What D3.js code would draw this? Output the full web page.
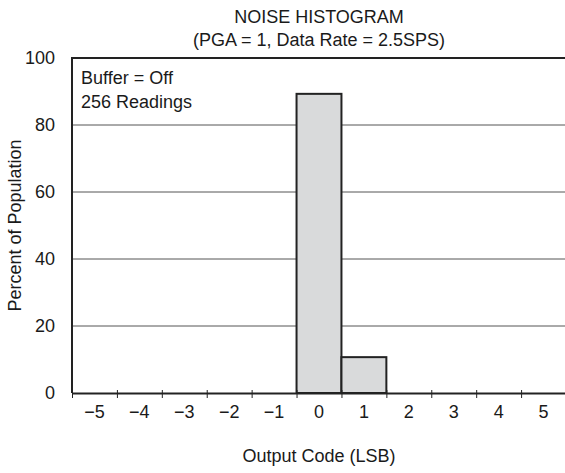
<!DOCTYPE html>
<html>
<head>
<meta charset="utf-8">
<script src="https://cdn.jsdelivr.net/npm/d3@7"></script>
<style>
  body { margin: 0; background: #fff; }
  text { font-family: "Liberation Sans", Arial, sans-serif; fill: #1a1a1a; }
</style>
</head>
<body>
<script>
// Chart data
const codes = [-5, -4, -3, -2, -1, 0, 1, 2, 3, 4, 5];
const percents = [0, 0, 0, 0, 0, 89.3, 10.7, 0, 0, 0, 0];
const yTicks = [0, 20, 40, 60, 80, 100];
const titleLines = ["NOISE HISTOGRAM", "(PGA = 1, Data Rate = 2.5SPS)"];
const noteLines = ["Buffer = Off", "256 Readings"];

const width = 565, height = 473;
const margin = { top: 58, right: -1, bottom: 80, left: 72 };
const fontSize = 18;

const svg = d3.select("body").append("svg")
    .attr("width", width)
    .attr("height", height);

const x = d3.scaleLinear()
    .domain([-5.5, 5.5])
    .range([margin.left, width - margin.right]);

const y = d3.scaleLinear()
    .domain([0, 100])
    .range([height - margin.bottom, margin.top]);

// Gridlines
svg.append("g")
    .selectAll("line")
    .data(yTicks.filter(d => d > 0 && d < 100))
    .enter().append("line")
    .attr("x1", x(-5.5)).attr("x2", x(5.5))
    .attr("y1", d => y(d)).attr("y2", d => y(d))
    .attr("stroke", "#555")
    .attr("stroke-width", 1);

// Top border
svg.append("line")
    .attr("x1", x(-5.5)).attr("x2", x(5.5))
    .attr("y1", y(100)).attr("y2", y(100))
    .attr("stroke", "#222").attr("stroke-width", 2);

// Bars
svg.append("g")
    .selectAll("rect")
    .data(codes.map((c, i) => ({ c, v: percents[i] })).filter(d => d.v > 0))
    .enter().append("rect")
    .attr("x", d => x(d.c - 0.5))
    .attr("width", d => x(d.c + 0.5) - x(d.c - 0.5))
    .attr("y", d => y(d.v))
    .attr("height", d => y(0) - y(d.v))
    .attr("fill", "#d9dadb")
    .attr("stroke", "#222")
    .attr("stroke-width", 2);

// Left frame
svg.append("line")
    .attr("x1", x(-5.5)).attr("x2", x(-5.5))
    .attr("y1", y(100) - 1).attr("y2", y(0))
    .attr("stroke", "#222").attr("stroke-width", 2);

// X axis with tick marks on bin edges
const edges = codes.map(c => c - 0.5).concat([5.5]);
const xAxis = svg.append("g")
    .attr("transform", `translate(0,${y(0)})`)
    .call(d3.axisBottom(x).tickValues(edges).tickSize(5).tickSizeOuter(0).tickFormat(""));
xAxis.select(".domain").attr("stroke", "#222").attr("stroke-width", 2.2);
xAxis.selectAll(".tick line")
    .attr("y1", -3)
    .attr("stroke", "#222").attr("stroke-width", 1);

// X tick labels at bin centres
svg.append("g")
    .selectAll("text")
    .data(codes)
    .enter().append("text")
    .attr("x", d => x(d))
    .attr("y", y(0) + 25)
    .attr("text-anchor", "middle")
    .attr("font-size", fontSize)
    .text(d => d < 0 ? "\u2212" + Math.abs(d) : d);

// Y tick labels
svg.append("g")
    .selectAll("text")
    .data(yTicks)
    .enter().append("text")
    .attr("x", 55)
    .attr("y", d => y(d))
    .attr("dy", "0.35em")
    .attr("text-anchor", "end")
    .attr("font-size", fontSize)
    .text(d => d);

// Titles
svg.append("g")
    .selectAll("text")
    .data(titleLines)
    .enter().append("text")
    .attr("x", 319)
    .attr("y", (d, i) => 23 + i * 23)
    .attr("text-anchor", "middle")
    .attr("font-size", fontSize)
    .text(d => d);

// Annotation
svg.append("g")
    .selectAll("text")
    .data(noteLines)
    .enter().append("text")
    .attr("x", 81)
    .attr("y", (d, i) => 84 + i * 24)
    .attr("font-size", fontSize)
    .text(d => d);

// Axis titles
svg.append("text")
    .attr("x", 319)
    .attr("y", 462)
    .attr("text-anchor", "middle")
    .attr("font-size", fontSize)
    .text("Output Code (LSB)");

svg.append("text")
    .attr("transform", `translate(21,${(y(0) + y(100)) / 2}) rotate(-90)`)
    .attr("text-anchor", "middle")
    .attr("font-size", fontSize)
    .text("Percent of Population");
</script>
</body>
</html>
